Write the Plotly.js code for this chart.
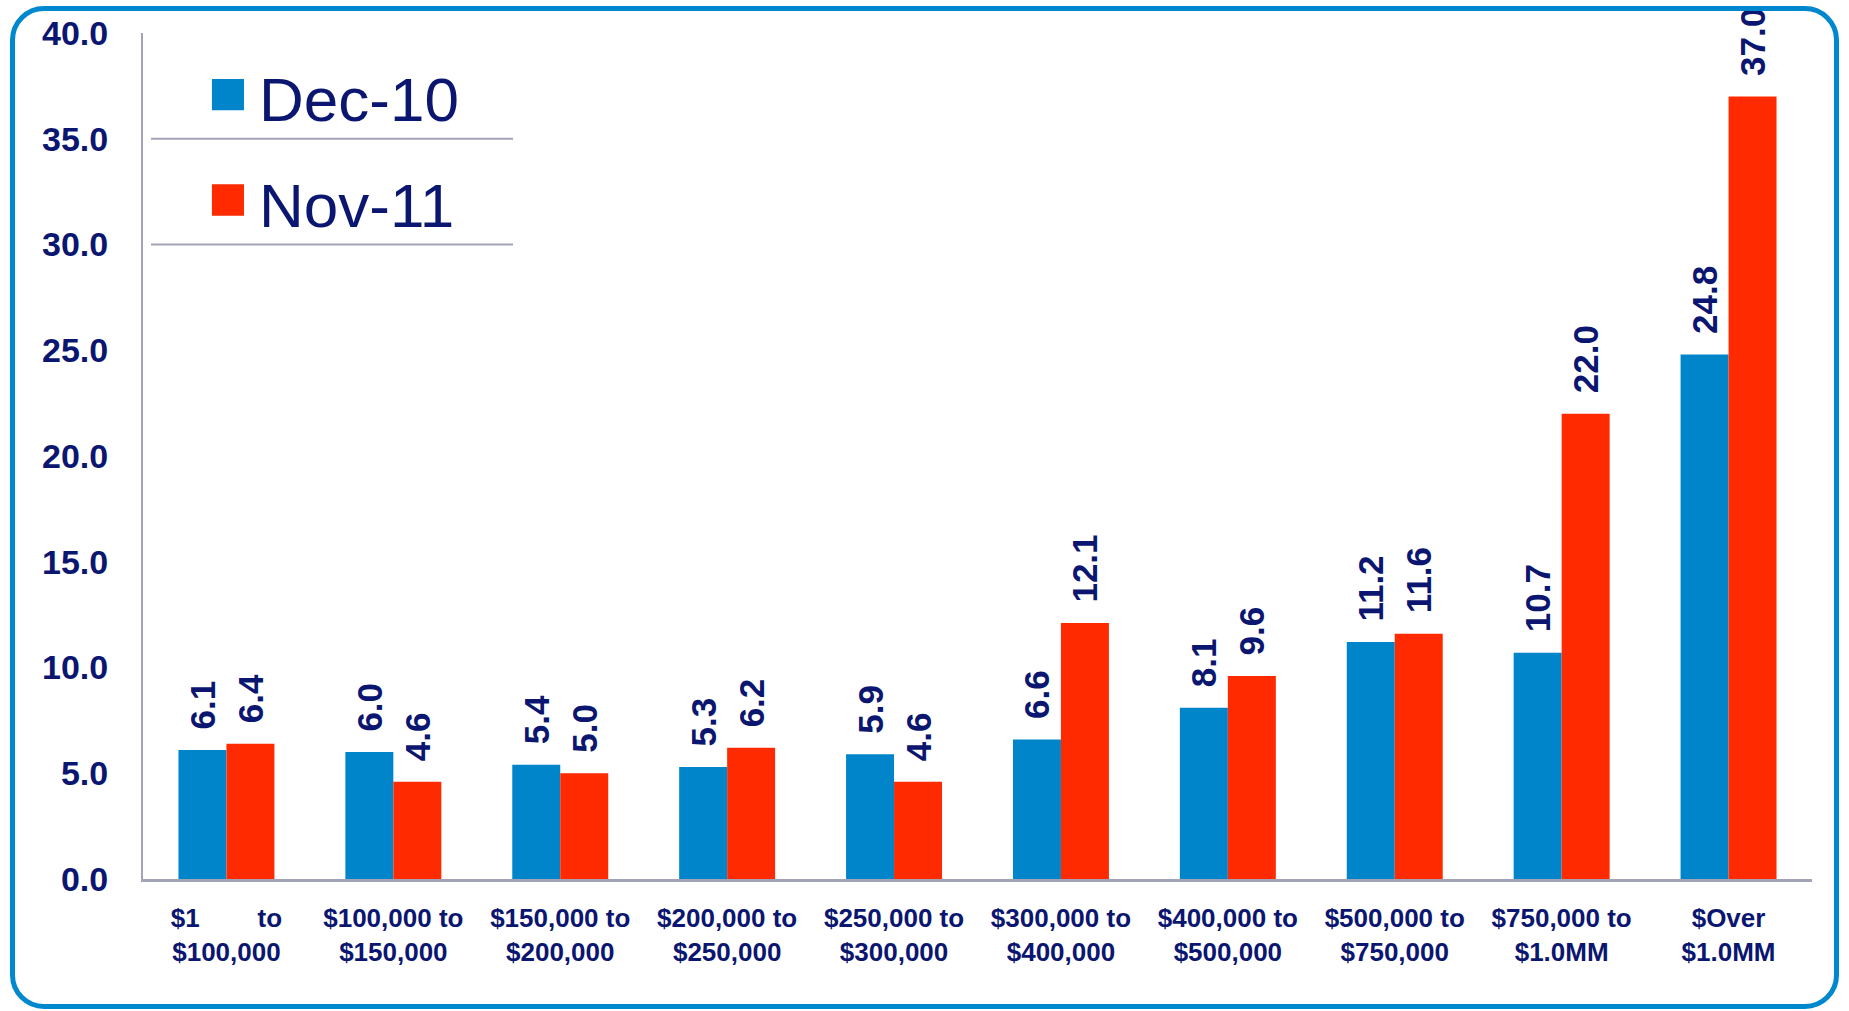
<!DOCTYPE html>
<html>
<head>
<meta charset="utf-8">
<script src="https://cdn.plot.ly/plotly-3.0.1.min.js"></script>
<style>
  html, body { margin: 0; padding: 0; background: #ffffff; }
  #chart { position: absolute; left: 0; top: 0; width: 1849px; height: 1011px; }
  #frame { position: absolute; left: 10px; top: 6px; width: 1829px; height: 1003px;
           box-sizing: border-box; border: 5px solid #0088CE; border-radius: 34px; pointer-events: none; }
</style>
</head>
<body>
<div id="chart"></div>
<div id="frame"></div>
<script>
const NB = '\u00a0';
const categories = [
  '$1' + NB.repeat(8) + 'to<br>$100,000',
  '$100,000 to<br>$150,000',
  '$150,000 to<br>$200,000',
  '$200,000 to<br>$250,000',
  '$250,000 to<br>$300,000',
  '$300,000 to<br>$400,000',
  '$400,000 to<br>$500,000',
  '$500,000 to<br>$750,000',
  '$750,000 to<br>$1.0MM',
  '$Over<br>$1.0MM'
];
const seriesNames = ['Dec-10', 'Nov-11'];
const dec10 = [6.1, 6.0, 5.4, 5.3, 5.9, 6.6, 8.1, 11.2, 10.7, 24.8];
const nov11 = [6.4, 4.6, 5.0, 6.2, 4.6, 12.1, 9.6, 11.6, 22.0, 37.0];
const yTickVals = [0, 5, 10, 15, 20, 25, 30, 35, 40];

const NAVY = '#0B1670';
const BLUE = '#0085CA';
const RED = '#FF2A00';
const AXIS = '#A3A3B8';
const FONT = '"Liberation Sans", Arial, sans-serif';

function barTrace(name, values, color) {
  return {
    type: 'bar', name: name, x: categories, y: values,
    marker: { color: color, line: { width: 0 } },
    texttemplate: '\u2002%{y:.1f}',
    textposition: 'outside', textangle: -90, constraintext: 'none', cliponaxis: false,
    textfont: { family: FONT, size: 35, color: NAVY, weight: 'bold' },
    hoverinfo: 'x+y+name', showlegend: false
  };
}

const data = [barTrace(seriesNames[0], dec10, BLUE), barTrace(seriesNames[1], nov11, RED)];

const legendColors = [BLUE, RED];
const legendY = [0.9272, 0.8026];
const shapes = [];
const annotations = [];
seriesNames.forEach((n, i) => {
  shapes.push({ type: 'rect', xref: 'paper', yref: 'paper',
    x0: 0.0413, x1: 0.0605, y0: legendY[i] - 0.0185, y1: legendY[i] + 0.0185,
    fillcolor: legendColors[i], line: { width: 0 } });
  annotations.push({ xref: 'paper', yref: 'paper', x: 0.0685, y: legendY[i] - 0.006,
    xanchor: 'left', yanchor: 'middle', text: n, showarrow: false,
    font: { family: FONT, size: 62, color: NAVY } });
});
[35, 30].forEach(v => {
  shapes.push({ type: 'line', xref: 'paper', yref: 'y', x0: 0.0048, x1: 0.2217, y0: v, y1: v,
    line: { color: AXIS, width: 2 } });
});

const layout = {
  width: 1849, height: 1011,
  margin: { l: 143, r: 37, t: 33, b: 132 },
  paper_bgcolor: 'rgba(0,0,0,0)', plot_bgcolor: 'rgba(0,0,0,0)',
  barmode: 'group', bargap: 0.425, bargroupgap: 0,
  showlegend: false,
  font: { family: FONT, color: NAVY },
  xaxis: {
    type: 'category', range: [-0.5, 9.5], showline: true, linecolor: AXIS, linewidth: 3,
    ticks: '', showgrid: false, zeroline: false, tickangle: 0, ticklabelstandoff: 14,
    tickfont: { family: FONT, size: 26, color: NAVY, weight: 'bold' }
  },
  yaxis: {
    range: [0, 40], tickvals: yTickVals, tickformat: '.1f', showline: true, linecolor: AXIS, linewidth: 2,
    ticks: '', showgrid: false, zeroline: false, ticklabelstandoff: 26,
    tickfont: { family: FONT, size: 34, color: NAVY, weight: 'bold' }
  },
  shapes: shapes,
  annotations: annotations
};

Plotly.newPlot('chart', data, layout, { displayModeBar: false, staticPlot: true });
</script>
</body>
</html>
